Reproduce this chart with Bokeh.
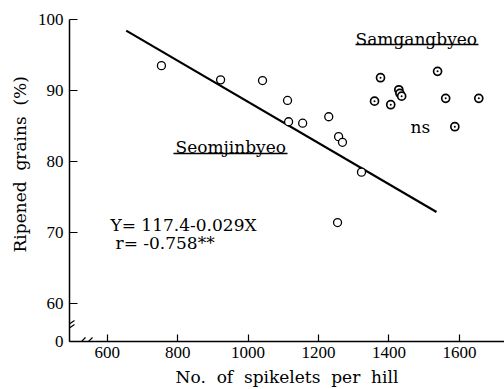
from bokeh.plotting import figure
from bokeh.models import Label, Arrow, FixedTicker, Range1d
from bokeh.embed import file_html
from bokeh.resources import INLINE

# ---- data ----
seom_x = [754, 922, 1041, 1112, 1115, 1155, 1229, 1257, 1268, 1322, 1254]
seom_y = [93.5, 91.5, 91.4, 88.6, 85.6, 85.4, 86.3, 83.5, 82.7, 78.5, 71.4]
samg_x = [1376, 1359, 1405, 1428, 1431, 1436, 1538, 1561, 1587, 1655]
samg_y = [91.8, 88.5, 88.0, 90.1, 89.6, 89.2, 92.7, 88.9, 84.9, 88.9]
reg_intercept = 117.4
reg_slope = -0.029
reg_r = -0.758
reg_x = [654, 1535]
x_ticks = [600, 800, 1000, 1200, 1400, 1600]
y_ticks = [60, 70, 80, 90, 100]
x_range = (493, 1728)
y_range = (54.65, 100)

NB = "\u00a0"
x_title = f"No.{NB} of{NB} spikelets{NB} per{NB} hill"
y_title = NB * 6 + f"Ripened{NB} grains{NB} (%)"

# ---- layout ----
W, H = 504, 389
BL, BT, BB, BR = 69, 19, 48, 0
FW, FH = W - BL - BR, H - BT - BB


def xd(px):
    return x_range[0] + (px - BL) * (x_range[1] - x_range[0]) / FW


def yd(py):
    return y_range[1] - (py - BT) * (y_range[1] - y_range[0]) / FH


SERIF = "DejaVu Serif"
TICKF = "Liberation Serif"

p = figure(width=W, height=H, x_range=Range1d(*x_range), y_range=Range1d(*y_range),
           output_backend="svg", toolbar_location=None,
           min_border_left=BL, min_border_right=BR, min_border_top=BT, min_border_bottom=BB)
p.grid.visible = False
p.outline_line_color = None
p.background_fill_color = "white"
p.border_fill_color = "white"

p.xaxis.ticker = FixedTicker(ticks=x_ticks)
p.yaxis.ticker = FixedTicker(ticks=[y_range[0]] + y_ticks)
p.yaxis.major_label_overrides = {y_range[0]: "0"}
for ax in (p.xaxis, p.yaxis):
    ax.axis_line_width = 1.5
    ax.axis_line_color = "black"
    ax.major_tick_line_color = "black"
    ax.major_tick_line_width = 1.2
    ax.minor_tick_line_color = None
    ax.major_tick_out = 0
    ax.major_label_text_font = TICKF
    ax.major_label_text_font_size = "17px"
    ax.major_label_text_color = "black"
    ax.major_label_text_line_height = 1.0
    ax.axis_label_text_font = SERIF
    ax.axis_label_text_font_size = "17px"
    ax.axis_label_text_font_style = "normal"
    ax.axis_label_text_color = "black"
    ax.axis_label_text_line_height = 1.0
p.yaxis.major_tick_in = 8
p.xaxis.major_tick_in = 7
p.yaxis.major_label_standoff = 6
p.xaxis.major_label_standoff = 5
p.xaxis.axis_label = x_title
p.yaxis.axis_label = y_title
p.xaxis.axis_label_standoff = 6
p.yaxis.axis_label_standoff = 5

# regression line
reg_y = [reg_intercept + reg_slope * x for x in reg_x]
p.line(reg_x, reg_y, line_color="black", line_width=2.2)

# points
p.scatter(seom_x, seom_y, marker="circle", size=8, line_color="black",
          line_width=1.3, fill_color="white")
p.scatter(samg_x, samg_y, marker="circle_dot", size=8, line_color="black",
          line_width=1.7, fill_color="white")


def lab(txt, px, py):
    p.add_layout(Label(x=xd(px), y=yd(py), text=txt, text_font=SERIF,
                       text_font_size="17px", text_color="black",
                       text_baseline="alphabetic", text_align="left"))


def stroke(x0, y0, x1, y1, w=1.5):
    p.add_layout(Arrow(end=None, x_start=xd(x0), y_start=yd(y0), x_end=xd(x1), y_end=yd(y1),
                       line_color="black", line_width=w))


lab("Samgangbyeo", 355, 38)
stroke(355, 44, 478, 44)
lab("Seomjinbyeo", 175, 146)
stroke(173, 153, 287, 153)
lab("ns", 410, 126)
lab(f"Y= {reg_intercept}-{abs(reg_slope)}X", 110, 224)
lab(f"r= {reg_r}**", 115, 242)

# axis break marks
stroke(65, 326, 74, 320, 1.2)
stroke(65, 330, 74, 324, 1.2)
stroke(78, 344, 85, 337, 1.2)
stroke(85, 344, 92, 337, 1.2)

open("out.html", "w").write(file_html(p, INLINE))
